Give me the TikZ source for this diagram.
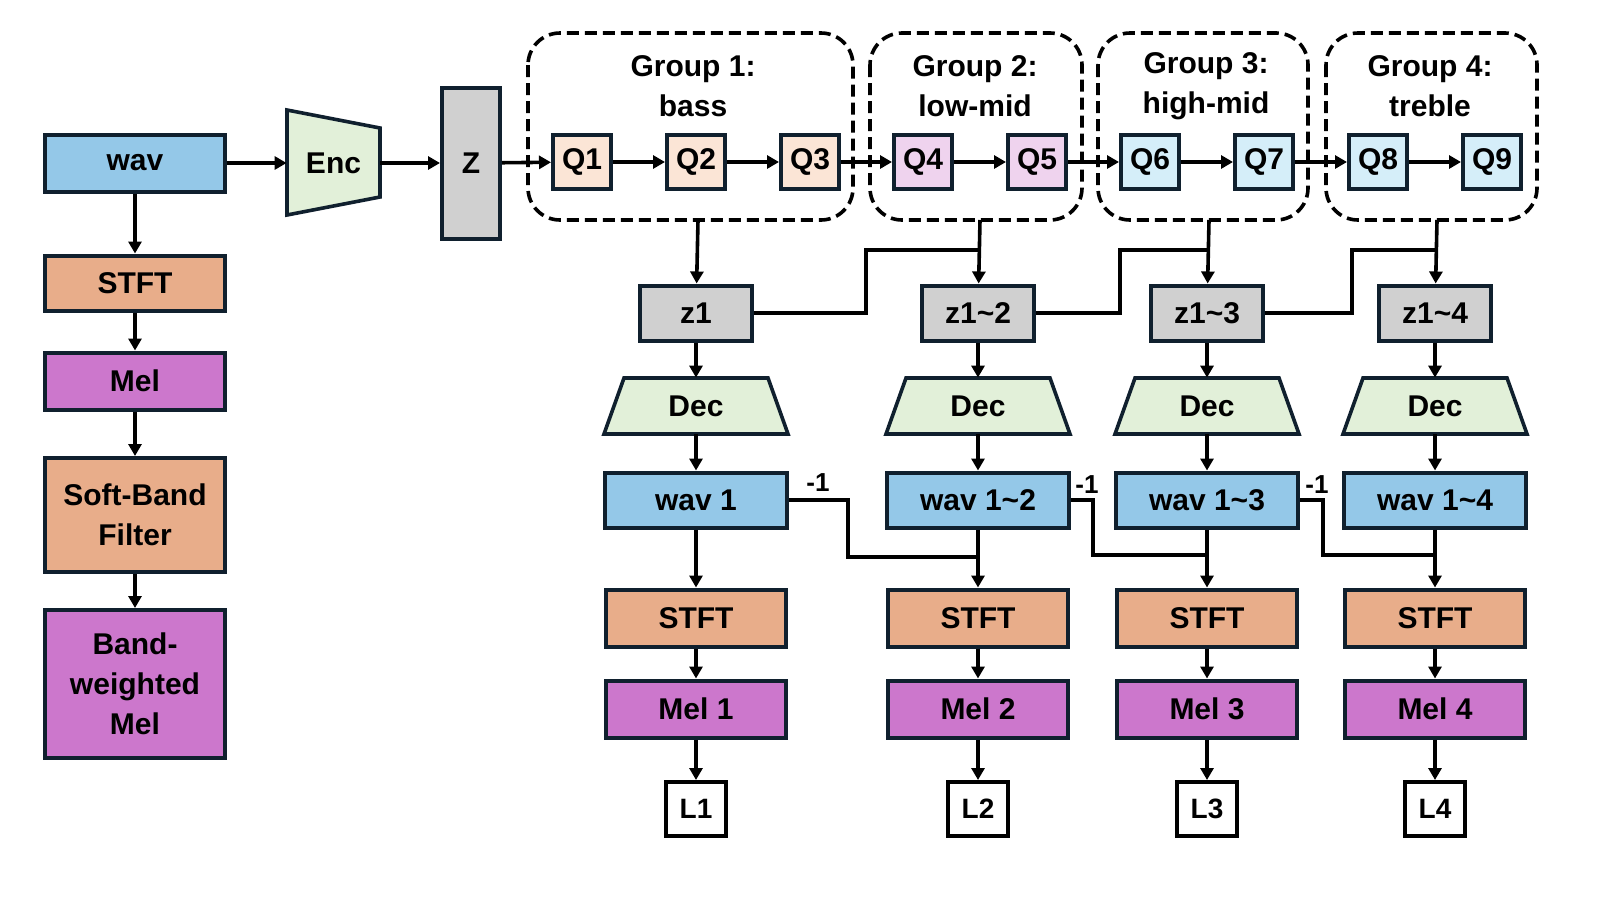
\documentclass[tikz,border=0pt]{standalone}
\usepackage{fontspec}
\setmainfont{Liberation Sans}
\usetikzlibrary{arrows.meta,shapes.geometric}
\definecolor{cblue}{HTML}{94C8E8}
\definecolor{corange}{HTML}{E8AD8A}
\definecolor{cmag}{HTML}{CC77CC}
\definecolor{cgreen}{HTML}{E2F0D9}
\definecolor{cgray}{HTML}{D0D0D0}
\definecolor{cq1}{HTML}{FBE5D6}
\definecolor{cq2}{HTML}{EFD3EE}
\definecolor{cq3}{HTML}{D5EEF9}
\definecolor{cedge}{HTML}{10202E}
\begin{document}
\begin{tikzpicture}[x=0.5pt,y=-0.5pt,
  bx/.style 2 args={draw=cedge,line width=2pt,minimum width=#1*0.5pt,minimum height=#2*0.5pt,inner sep=0pt,align=center,font=\fontsize{15}{20}\selectfont\bfseries},
  qb/.style={bx={58}{54},fill=#1},
  lb/.style={draw=black,line width=2pt,minimum width=30pt,minimum height=27pt,inner sep=0pt,font=\fontsize{14}{16}\selectfont\bfseries},
  grp/.style={draw=black,line width=1.8pt,dash pattern=on 6pt off 3pt,rounded corners=16pt},
  gt/.style={font=\fontsize{15}{20}\selectfont\bfseries,align=center},
  ar/.style={line width=1.8pt,-{Triangle[length=6pt,width=6.5pt]}},
  ln/.style={line width=1.8pt},
  trap/.style={draw=cedge,line width=1.8pt,fill=cgreen}]
\useasboundingbox (0,0) rectangle (1620,900);
% left column
\node[bx={180}{57},fill=cblue] (wav) at (135,163) {wav};
\node[bx={180}{55},fill=corange] (stft0) at (135,283) {STFT};
\node[bx={180}{57},fill=cmag] (mel0) at (135,381) {Mel};
\node[bx={180}{114},fill=corange] (sbf) at (135,515) {Soft-Band\\Filter};
\node[bx={180}{148},fill=cmag] (bwm) at (135,684) {Band-\\weighted\\Mel};
\draw[ar] (wav) -- (stft0);
\draw[ar] (stft0) -- (mel0);
\draw[ar] (mel0) -- (sbf);
\draw[ar] (sbf) -- (bwm);
% encoder
\draw[trap] (287,110) -- (380,128) -- (380,197) -- (287,215) -- cycle;
\node[minimum width=46.5pt,minimum height=52pt,inner sep=0pt,font=\fontsize{15}{18}\selectfont\bfseries] (enc) at (333.5,163) {Enc};
\node[bx={58}{151},fill=cgray] (Z) at (471,163) {Z};
\draw[ar] (wav) -- (enc);
\draw[ar] (enc) -- (Z);
% groups
\draw[grp] (528,33) rectangle (853,220);
\draw[grp] (870,33) rectangle (1082,220);
\draw[grp] (1098,33) rectangle (1308,220);
\draw[grp] (1326,33) rectangle (1537,220);
\node[gt] (g1) at (693,86) {Group 1:\\bass};
\node[gt] (g2) at (975,86) {Group 2:\\low-mid};
\node[gt] (g3) at (1206,86) {Group 3:\\high-mid};
\node[gt] (g4) at (1430,86) {Group 4:\\treble};
\coordinate (gb1) at (698,220);
\coordinate (gb2) at (980,220);
\coordinate (gb3) at (1209,220);
\coordinate (gb4) at (1437,220);
% Q boxes
\node[qb=cq1] (q1) at (582,162) {Q1};
\node[qb=cq1] (q2) at (696,162) {Q2};
\node[qb=cq1] (q3) at (810,162) {Q3};
\node[qb=cq2] (q4) at (923,162) {Q4};
\node[qb=cq2] (q5) at (1037,162) {Q5};
\node[qb=cq3] (q6) at (1150,162) {Q6};
\node[qb=cq3] (q7) at (1264,162) {Q7};
\node[qb=cq3] (q8) at (1378,162) {Q8};
\node[qb=cq3] (q9) at (1492,162) {Q9};
\draw[ar] (Z) -- (q1);
\foreach \a/\b in {q1/q2,q2/q3,q3/q4,q4/q5,q5/q6,q6/q7,q7/q8,q8/q9} \draw[ar] (\a) -- (\b);
% columns
\foreach \i/\x/\zl/\wl in {1/696/z1/wav 1,2/978/z1\char126 2/wav 1\char126 2,3/1207/z1\char126 3/wav 1\char126 3,4/1435/z1\char126 4/wav 1\char126 4}{
  \node[bx={112}{55},fill=cgray] (z\i) at (\x,313) {\zl};
  \draw[trap] (\x-72,378) -- (\x+72,378) -- (\x+92,434) -- (\x-92,434) -- cycle;
  \node[minimum width=90pt,minimum height=28pt,inner sep=0pt,font=\fontsize{15}{18}\selectfont\bfseries] (d\i) at (\x,406) {Dec};
  \node[bx={182}{55},fill=cblue] (w\i) at (\x,500) {\wl};
  \node[bx={180}{57},fill=corange] (s\i) at (\x,618) {STFT};
  \node[bx={180}{57},fill=cmag] (m\i) at (\x,709) {Mel \i};
  \node[lb] (L\i) at (\x,809) {L\i};
  \draw[ar] (z\i) -- (d\i);
  \draw[ar] (d\i) -- (w\i);
  \draw[ar] (w\i) -- (s\i);
  \draw[ar] (s\i) -- (m\i);
  \draw[ar] (m\i) -- (L\i);
}
\draw[ar] (gb1) -- (z1);
\draw[ar] (gb2) -- (z2);
\draw[ar] (gb3) -- (z3);
\draw[ar] (gb4) -- (z4);
\draw[ln] (z1.east) -- (866,313) -- (866,250) -- (980,250);
\draw[ln] (z2.east) -- (1120,313) -- (1120,250) -- (1209,250);
\draw[ln] (z3.east) -- (1352,313) -- (1352,250) -- (1437,250);
\draw[ln] (w1.east) -- (848,500) -- (848,557) -- (978,557);
\draw[ln] (w2.east) -- (1093,500) -- (1093,555) -- (1207,555);
\draw[ln] (w3.east) -- (1323,500) -- (1323,555) -- (1435,555);
\node[font=\fontsize{13}{15}\selectfont\bfseries] (m1l) at (818,483) {-1};
\node[font=\fontsize{13}{15}\selectfont\bfseries] (m2l) at (1087,485) {-1};
\node[font=\fontsize{13}{15}\selectfont\bfseries] (m3l) at (1317,485) {-1};
\end{tikzpicture}
\end{document}
